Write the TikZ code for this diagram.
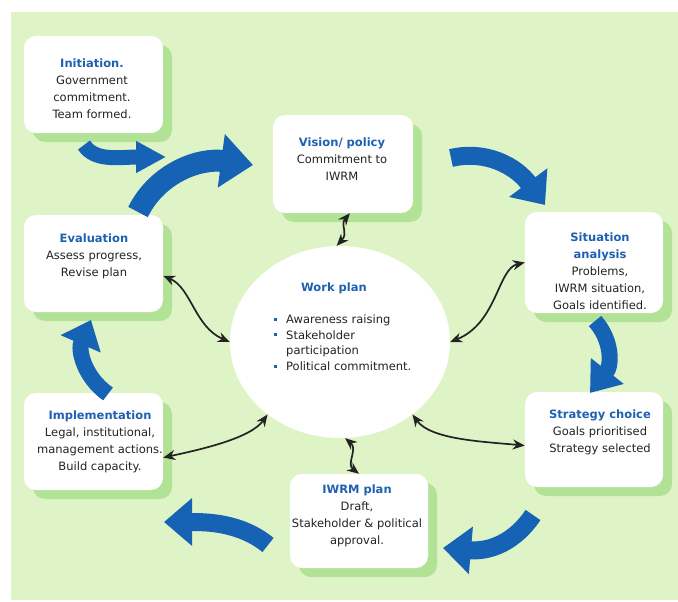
\documentclass[tikz,border=0pt]{standalone}
\usepackage{fontspec}
\setmainfont{DejaVu Sans}
\usetikzlibrary{arrows.meta,shapes.geometric,shadows}

\definecolor{paper}{RGB}{223,244,198}
\definecolor{leaf}{RGB}{178,226,150}
\definecolor{cycleblue}{RGB}{22,98,180}
\definecolor{headblue}{RGB}{30,96,178}
\definecolor{ink}{RGB}{35,35,35}

\newcommand{\stage}[1]{\textbf{\textcolor{headblue}{#1}}}
\newcommand{\bul}{\textcolor{headblue}{\rule[3pt]{3pt}{3pt}}}

\begin{document}
\begin{tikzpicture}[x = 1pt, y = -1pt,
    every node/.style = {text = ink, font = \fontsize{11.5}{17}\selectfont},
    card/.style = {fill = white, rounded corners = 12pt, inner sep = 0pt,
      minimum width = 139pt, minimum height = 97pt,
      drop shadow = {shadow xshift = 9pt, shadow yshift = -9pt, fill = leaf, opacity = 1}},
    turn/.style = {cycleblue, line width = 18pt, -{Triangle[length = 28pt, width = 46pt]}},
    link/.style = {ink, line width = 1.7pt, {Stealth[length = 12pt, width = 10pt]}-{Stealth[length = 12pt, width = 10pt]}}]
    \useasboundingbox (0,0) rectangle (678,602);
    \fill [white] (0,0) rectangle (678,602);
    \fill [paper] (11,12) rectangle (678,600);

    % the seven stages
    \node [card] (initbox) at (93.5,84.5) {};
    \node [card, minimum width = 140pt, minimum height = 98pt] (visionbox) at (343,164) {};
    \node [card, minimum width = 138pt, minimum height = 101pt] (sitbox) at (594,262.5) {};
    \node [card, minimum width = 138pt, minimum height = 95pt] (stratbox) at (594,439.5) {};
    \node [card, minimum width = 138pt, minimum height = 94pt] (planbox) at (359,521) {};
    \node [card] (implbox) at (93.5,441.5) {};
    \node [card] (evalbox) at (93.5,263.5) {};
    \node [ellipse, fill = white, inner sep = 0pt, minimum width = 220pt, minimum height = 192pt] (workplan) at (340,342) {};

    \node [align = center] (inittext) at (92,89) {\stage{Initiation.}\\Government\\commitment.\\Team formed.};
    \node [align = center] (visiontext) at (342,159) {\stage{Vision/ policy}\\Commitment to\\IWRM};
    \node [align = center] (sittext) at (600,271) {\stage{Situation}\\\stage{analysis}\\Problems,\\IWRM situation,\\Goals identified.};
    \node [align = center] (strattext) at (600,432.5) {\stage{Strategy choice}\\Goals prioritised\\Strategy selected};
    \node [align = center] (plantext) at (357,515.5) {\stage{IWRM plan}\\Draft,\\Stakeholder \& political\\approval.};
    \node [align = center] (impltext) at (100,442) {\stage{Implementation}\\Legal, institutional,\\management actions.\\Build capacity.};
    \node [align = center] (evaltext) at (94,256) {\stage{Evaluation}\\Assess progress,\\Revise plan};
    \node (worktitle) at (334,288) {\stage{Work plan}};
    \node [anchor = west, inner sep = 0pt, font = \fontsize{11.5}{15.7}\selectfont] (worklist) at (274,344)
      {\begin{tabular}{@{}l@{\hspace{9pt}}l@{}}
        \bul & Awareness raising\\
        \bul & Stakeholder\\
             & participation\\
        \bul & Political commitment.
      \end{tabular}};

    % ends of the cycle arrows
    \coordinate (initout) at (84,145);    \coordinate (visionin) at (166,157);
    \coordinate (evalout) at (138,212);   \coordinate (visionin2) at (253,165);
    \coordinate (visionout) at (451,158); \coordinate (sitin) at (545,205);
    \coordinate (sitout) at (595,321);    \coordinate (stratin) at (590,393);
    \coordinate (stratout) at (533,515);  \coordinate (planin) at (443,548);
    \coordinate (planout) at (268,545);   \coordinate (implin) at (164,522);
    \coordinate (implout) at (108,394);   \coordinate (evalin) at (91,320);

    \draw [turn, line width = 15pt, -{Triangle[length = 30pt, width = 30pt]}] (initout) .. controls (95,162) and (120,157) .. (visionin);
    \draw [turn, line width = 22pt, -{Triangle[length = 32pt, width = 52pt]}] (evalout) .. controls (158,172) and (200,158) .. (visionin2);
    \draw [turn] (visionout) .. controls (485,150) and (515,165) .. (sitin);
    \draw [turn, line width = 16pt, -{Triangle[length = 28pt, width = 40pt]}] (sitout) .. controls (612,340) and (612,365) .. (stratin);
    \draw [turn] (stratout) .. controls (515,542) and (490,552) .. (planin);
    \draw [turn] (planout) .. controls (240,522) and (205,522) .. (implin);
    \draw [turn, line width = 16pt, -{Triangle[length = 26pt, width = 42pt]}] (implout) .. controls (84,377) and (78,350) .. (evalin);

    % links to the work plan
    \draw [link] (visionbox.-82) .. controls +(-10,12) and +(12,-13) .. (workplan.92);
    \draw [link] (sitbox.west) .. controls +(-27,6) and +(47,-19) .. (workplan.0);
    \draw [link] (evalbox.-10) .. controls +(28,12) and +(-35,-15) .. (workplan.180);
    \draw [link] (implbox.-13) .. controls +(37,-8) and +(-17,24) .. (workplan.225);
    \draw [link] (stratbox.185) .. controls +(-43,-4) and +(18,25) .. (workplan.-45);
    \draw [link] (workplan.-87) .. controls +(13,11) and +(-13,-10) .. (planbox.north);
  \end{tikzpicture}
\end{document}
